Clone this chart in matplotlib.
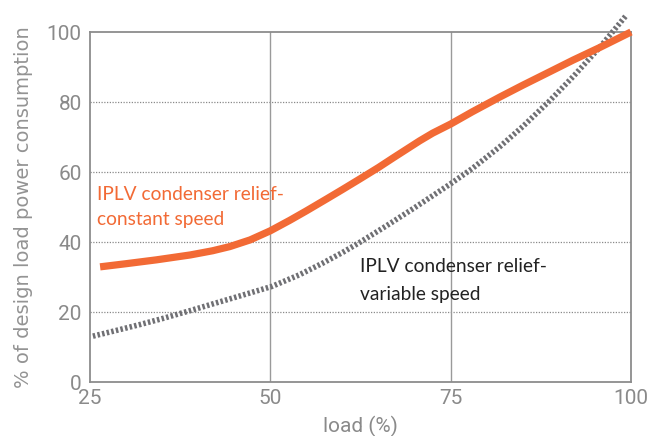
import matplotlib
matplotlib.use("Agg")
import matplotlib.pyplot as plt

# Data
load_const = [26.4, 30, 34.2, 38.9, 42, 44.4, 47.2, 50, 52.7, 55, 57.8, 60, 62.4,
              65, 67, 70.7, 72.5, 75, 78, 81.8, 85, 88.7, 92, 95.7, 100]
power_const = [32.9, 33.8, 34.9, 36.3, 37.5, 38.7, 40.6, 43.2, 46.2, 48.9, 52.3, 55.0, 58.0,
               61.3, 64.0, 68.9, 71.1, 73.7, 77.2, 81.4, 84.8, 88.6, 92.0, 95.6, 100]

load_var = [25.4, 28, 31.9, 35, 38.9, 42, 45.8, 50.2, 54, 57.3, 60, 62.4, 66, 70,
            74.9, 78, 81.8, 85, 88.7, 92, 95.7, 99.4]
power_var = [13.1, 14.4, 16.4, 18.1, 20.4, 22.3, 24.6, 27.3, 30.6, 34.0, 37.0, 39.9, 44.5, 49.8,
             56.5, 61.0, 67.2, 73.0, 80.3, 87.3, 95.7, 104.9]

x_ticks = [25, 50, 75, 100]
y_ticks = [0, 20, 40, 60, 80, 100]

label_const = ["IPLV condenser relief-", "constant speed"]
label_var = ["IPLV condenser relief-", "variable speed"]

ORANGE = "#F26A35"
GRAY_LINE = "#707074"
AX_GRAY = "#8c8c8c"
TXT_GRAY = "#8a8a8a"

fig = plt.figure(figsize=(6.47, 4.36), dpi=100)
ax = fig.add_axes([90/647, 1-382/436, (631-90)/647, (382-32)/436])

ax.set_xlim(25, 100)
ax.set_ylim(0, 100)

# grid
for yv in [20, 40, 60, 80]:
    ax.axhline(yv, color="#8a8a8a", lw=0.9, ls=(0, (1, 1.2)), zorder=1)
for xv in [50, 75]:
    ax.axvline(xv, color="#9a9a9a", lw=1.0, zorder=1)

ax.plot(load_var, power_var, color=GRAY_LINE, lw=4.0, dashes=(0.45, 0.4),
        dash_capstyle="butt", dash_joinstyle="round", clip_on=False, zorder=3)
ax.plot(load_const, power_const, color=ORANGE, lw=5.2, solid_capstyle="butt",
        solid_joinstyle="round", clip_on=False, zorder=4)

for s in ax.spines.values():
    s.set_color(AX_GRAY)
    s.set_linewidth(1.3)

ax.set_xticks(x_ticks)
ax.set_yticks(y_ticks)
ax.tick_params(length=0, labelcolor=TXT_GRAY, labelsize=15, pad=5)
ax.tick_params(axis="y", pad=6)
for lab in ax.get_xticklabels() + ax.get_yticklabels():
    lab.set_family("Roboto")

ax.set_xlabel("load (%)", fontsize=15, color=TXT_GRAY, family="Roboto",
              labelpad=6)
ax.set_ylabel("% of design load power consumption", fontsize=14, color="#939393",
              family="DejaVu Sans", labelpad=10)

for i, line in enumerate(label_const):
    ax.text(25.97, 52.0 - 7.2 * i, line, color=ORANGE, fontsize=13.8, family="Lato",
            va="baseline", ha="left", zorder=5)
for i, line in enumerate(label_var):
    ax.text(62.4, 31.4 - 8.0 * i, line, color="#222222", fontsize=13.8, family="Lato",
            va="baseline", ha="left", zorder=5)

fig.savefig("out.png", dpi=100)
